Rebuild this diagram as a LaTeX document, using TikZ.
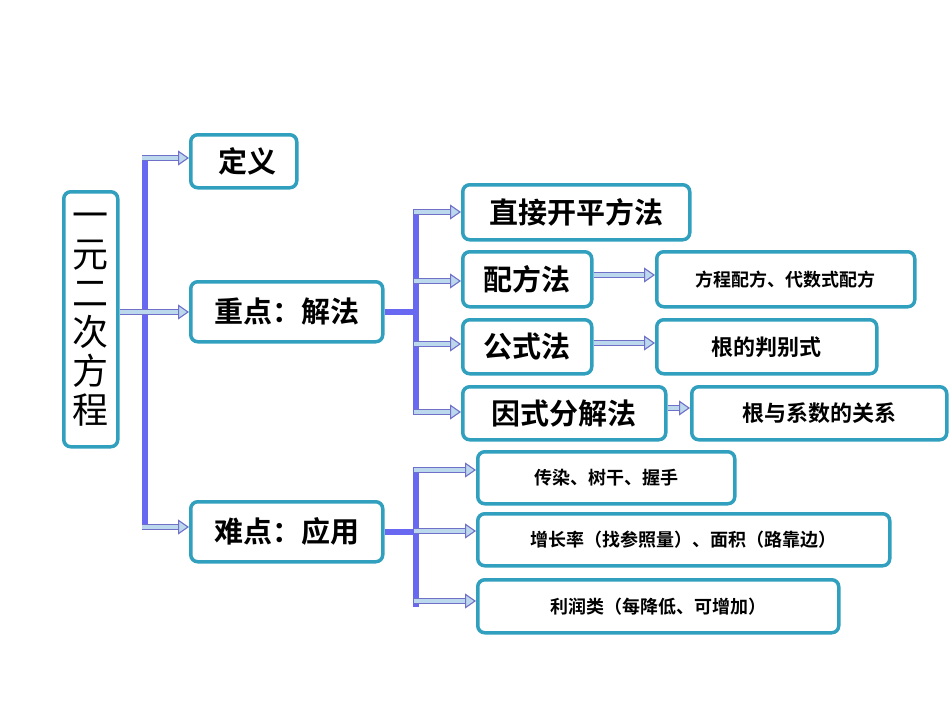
\documentclass[tikz,border=0pt]{standalone}
\usepackage{fontspec}
\setmainfont{Noto Sans CJK SC Bold}
\newfontfamily\rootfont{Noto Sans CJK SC}
\usetikzlibrary{arrows.meta}
\definecolor{bord}{HTML}{31A0BE}
\definecolor{bar}{HTML}{6868F0}
\definecolor{afill}{HTML}{BCD8EC}
\definecolor{aline}{HTML}{7070C8}
\begin{document}
\begin{tikzpicture}[x=1pt,y=-1pt,
  box/.style={draw=bord,line width=3.5pt,rounded corners=7pt,fill=white,inner sep=0pt},
  barline/.style={draw=bar,line width=6pt},
  conn/.style={draw=aline,double=afill,double distance=4.5pt,line width=1.1pt,
    -{Triangle[length=11pt,width=15pt,fill=afill,color=aline,line width=1.1pt]}}]
\useasboundingbox (0,0) rectangle (950,713);
\newcommand{\bx}[6]{\node[box,minimum width=#4-#2,minimum height=#5-#3,anchor=north west] (#1) at (#2,#3) {#6};}
\bx{root}{62}{190}{116}{445}{}
\node[font=\rootfont\fontsize{36}{39}\selectfont,align=center] at (root) {一\\元\\二\\次\\方\\程};
\bx{dy}{189}{133}{295}{186}{\fontsize{29}{30}\selectfont\ 定义}
\bx{zd}{189}{280}{381}{340}{\fontsize{29}{30}\selectfont 重点：解法}
\bx{nd}{189}{500}{381}{560}{\fontsize{29}{30}\selectfont 难点：应用}
\bx{m1}{461}{183}{688}{238}{\fontsize{29}{30}\selectfont 直接开平方法}
\bx{m2}{461}{250}{590}{305}{\fontsize{29}{30}\selectfont 配方法}
\bx{m3}{461}{318}{590}{372}{\fontsize{29}{30}\selectfont 公式法}
\bx{m4}{461}{385}{664}{438}{\fontsize{29}{30}\selectfont 因式分解法}
\bx{s2}{655}{250}{913}{305}{\fontsize{18}{20}\selectfont 方程配方、代数式配方}
\bx{s3}{655}{318}{875}{372}{\fontsize{22}{24}\selectfont 根的判别式}
\bx{s4}{690}{385}{945}{438}{\fontsize{22}{24}\selectfont 根与系数的关系}
\bx{a1}{476}{450}{733}{502}{\fontsize{18}{20}\selectfont 传染、树干、握手}
\bx{a2}{476}{512}{888}{564}{\fontsize{18}{20}\selectfont 增长率（找参照量）、面积（路靠边）}
\bx{a3}{476}{578}{837}{631}{\fontsize{18}{20}\selectfont 利润类（每降低、可增加）}
% bars
\coordinate (b1t) at (145,155); \coordinate (b1b) at (145,530);
\draw[barline] (b1t) -- (b1b);
\coordinate (b2t) at (416,209); \coordinate (b2b) at (416,415);
\draw[barline] (b2t) -- (b2b);
\draw[barline] (zd.east) -- (zd.east -| b2t);
\coordinate (b3t) at (416,467); \coordinate (b3b) at (416,607);
\draw[barline] (b3t) -- (b3b);
\draw[barline] (nd.east) -- (nd.east -| b3t);
% arrows
\draw[conn] (142,158) -- (dy.west|-0,158);
\draw[conn] (root.east|-0,312) -- (zd.west|-0,312);
\draw[conn] (142,527) -- (nd.west|-0,527);
\draw[conn] (414,212) -- (m1.west|-0,212);
\draw[conn] (414,281) -- (m2.west|-0,281);
\draw[conn] (414,344) -- (m3.west|-0,344);
\draw[conn] (414,412) -- (m4.west|-0,412);
\draw[conn] (m2.east|-0,275) -- (s2.west|-0,275);
\draw[conn] (m3.east|-0,343) -- (s3.west|-0,343);
\draw[conn] (m4.east|-0,408) -- (s4.west|-0,408);
\draw[conn] (414,470) -- (a1.west|-0,470);
\draw[conn] (414,531) -- (a2.west|-0,531);
\draw[conn] (414,601) -- (a3.west|-0,601);
\end{tikzpicture}
\end{document}
